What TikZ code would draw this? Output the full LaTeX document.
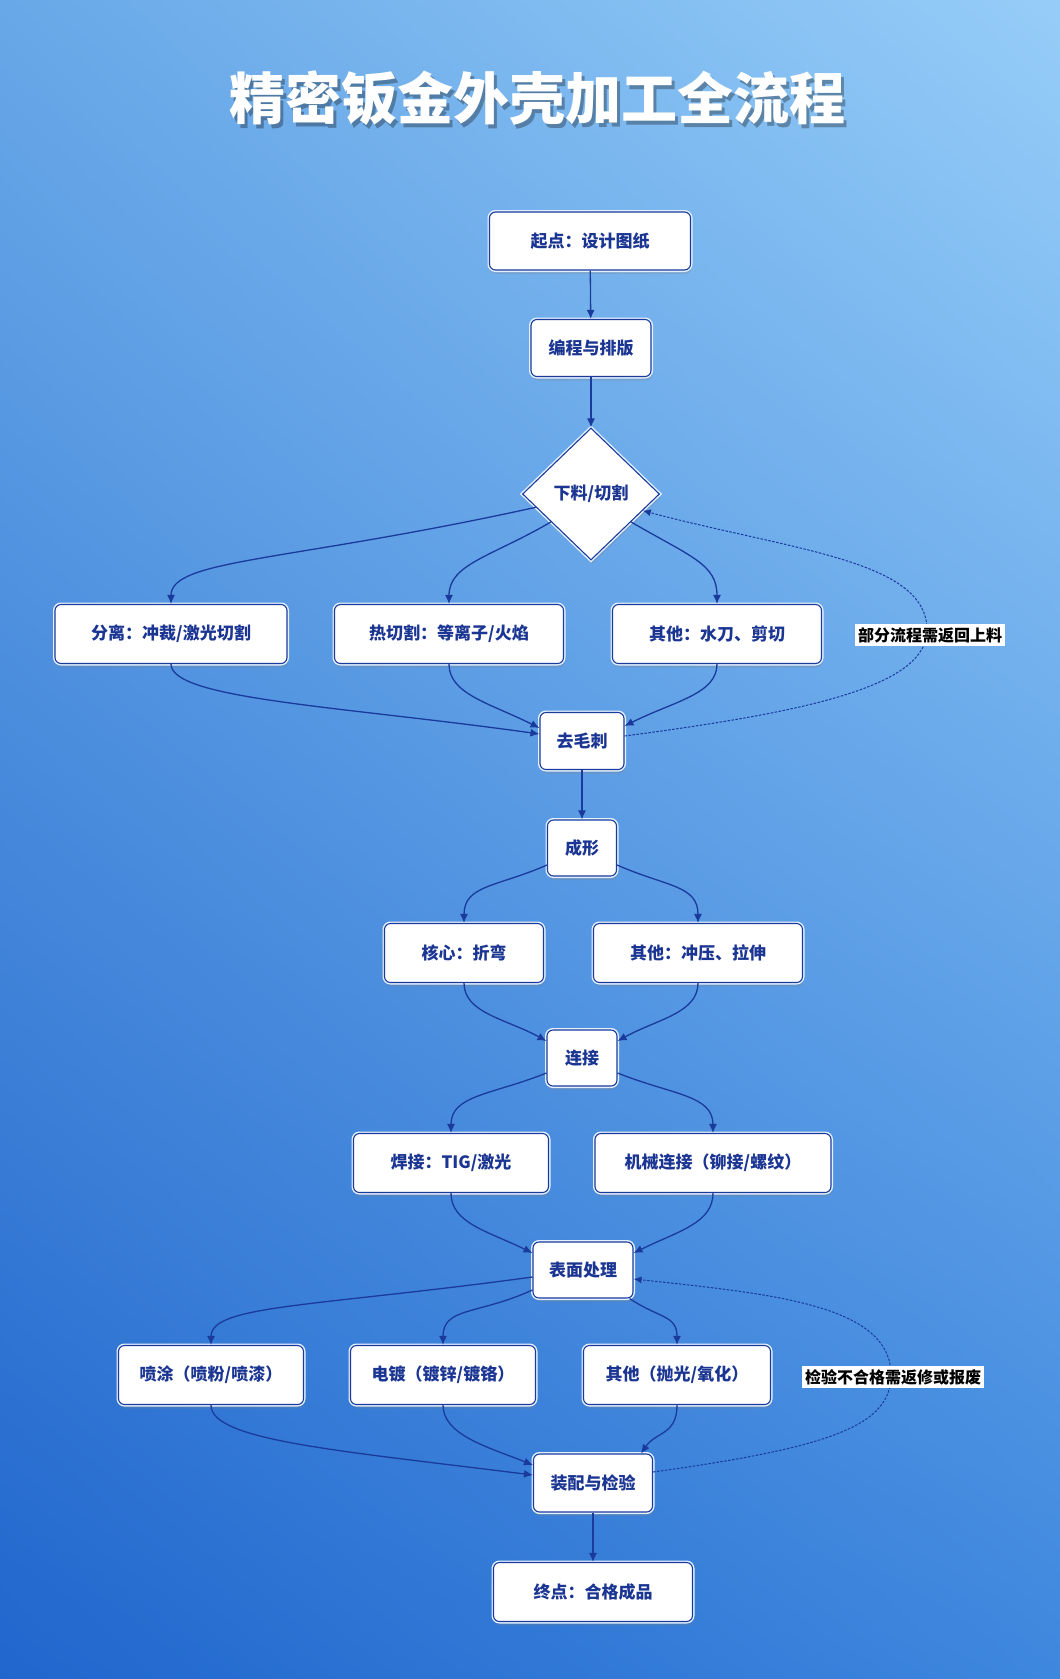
\documentclass[tikz,border=0pt]{standalone}
\usepackage{fontspec}
\setmainfont{Noto Sans CJK SC}
\usetikzlibrary{shapes.geometric,arrows.meta,shadows,calc,shadings}
\definecolor{ink}{HTML}{1B3592}
\definecolor{edgec}{HTML}{1A3A9C}
\definecolor{halo}{HTML}{E4F0FC}
\definecolor{bgtl}{RGB}{104,168,232}
\definecolor{bgtr}{RGB}{150,205,248}
\definecolor{bgbl}{RGB}{32,102,205}
\definecolor{bgbr}{RGB}{62,135,222}
\tikzset{
  pbox/.style={rectangle, rounded corners=6pt, fill=white, draw=edgec, line width=1.1pt,
    minimum height=58pt, inner sep=2pt, text=ink,
    font=\bfseries\fontsize{17}{20}\selectfont,
    drop shadow={opacity=0.25, shadow xshift=1pt, shadow yshift=-4pt},
    preaction={draw=halo, line width=4pt}},
  pdiam/.style={diamond, fill=white, draw=edgec, line width=1.1pt, inner sep=0pt,
    minimum width=137pt, minimum height=132pt, text=ink,
    font=\bfseries\fontsize{17}{20}\selectfont,
    drop shadow={opacity=0.25, shadow xshift=1pt, shadow yshift=-4pt},
    preaction={draw=halo, line width=4pt}},
  conn/.style={draw=edgec, line width=1.3pt, -{Latex[length=9pt,width=8pt]}},
  fb/.style={draw=edgec, line width=1pt, dash pattern=on 2.5pt off 1.5pt, -{Latex[length=8pt,width=7pt]}},
  note/.style={fill=white, text=black, inner sep=3pt, font=\bfseries\fontsize{16}{19}\selectfont}
}
\begin{document}
\begin{tikzpicture}[x=1pt,y=-1pt]
\useasboundingbox (0,0) rectangle (1060,1679);
\shade[upper left=bgtl, upper right=bgtr, lower left=bgbl, lower right=bgbr] (0,0) rectangle (1060,1679);

% title
\node[text=black, opacity=0.3, font=\bfseries\fontsize{56}{62}\selectfont] (titleshadow) at (540,102) {精密钣金外壳加工全流程};
\node[text=white, font=\bfseries\fontsize{56}{62}\selectfont] (title) at (537,98) {精密钣金外壳加工全流程};

% nodes
\node[pbox, minimum width=201pt] (s) at (590,241) {起点：设计图纸};
\node[pbox, minimum width=120pt, minimum height=57pt] (p) at (591,348) {编程与排版};
\node[pdiam] (d) at (591,494) {下料/切割};
\node[pbox, minimum width=232pt, minimum height=59pt] (c1) at (171,634) {分离：冲裁/激光切割};
\node[pbox, minimum width=229pt, minimum height=59pt] (c2) at (449,634) {热切割：等离子/火焰};
\node[pbox, minimum width=209pt, minimum height=59pt] (c3) at (717,634) {其他：水刀、剪切};
\node[pbox, minimum width=84pt, minimum height=57pt] (q) at (582,741) {去毛刺};
\node[pbox, minimum width=69pt, minimum height=56pt] (f) at (582,848) {成形};
\node[pbox, minimum width=159pt, minimum height=59pt] (f1) at (464,953) {核心：折弯};
\node[pbox, minimum width=209pt, minimum height=59pt] (f2) at (698,953) {其他：冲压、拉伸};
\node[pbox, minimum width=70pt, minimum height=56pt] (j) at (582,1058) {连接};
\node[pbox, minimum width=195pt, minimum height=59pt] (j1) at (451,1163) {焊接：TIG/激光};
\node[pbox, minimum width=236pt, minimum height=59pt] (j2) at (713,1163) {机械连接（铆接/螺纹）};
\node[pbox, minimum width=100pt, minimum height=56pt] (t) at (583,1270) {表面处理};
\node[pbox, minimum width=185pt, minimum height=59pt] (t1) at (211,1375) {喷涂（喷粉/喷漆）};
\node[pbox, minimum width=185pt, minimum height=59pt] (t2) at (443,1375) {电镀（镀锌/镀铬）};
\node[pbox, minimum width=187pt, minimum height=59pt] (t3) at (677,1375) {其他（抛光/氧化）};
\node[pbox, minimum width=119pt, minimum height=58pt] (a) at (593,1483) {装配与检验};
\node[pbox, minimum width=199pt, minimum height=59pt] (e) at (593,1592) {终点：合格成品};

\coordinate (r1) at (927,630);
\coordinate (r2) at (891,1375);

% connectors
\draw[conn] (s) -- (p);
\draw[conn] (p) -- (d);
\draw[conn] ($(d.west)!0.2!(d.south)$) .. controls +(-250,55) and +(0,-45) .. (c1.north);
\draw[conn] ($(d.west)!0.42!(d.south)$) .. controls +(-60,35) and +(0,-40) .. (c2.north);
\draw[conn] ($(d.east)!0.42!(d.south)$) .. controls +(60,35) and +(0,-40) .. (c3.north);
\draw[conn] (c1.south) .. controls +(0,35) and +(-200,-28) .. ([yshift=7pt]q.west);
\draw[conn] (c2.south) .. controls +(0,30) and +(-50,-25) .. ([yshift=13pt]q.west);
\draw[conn] (c3.south) .. controls +(0,30) and +(50,-25) .. ([yshift=15pt]q.east);
\draw[fb] ([yshift=5pt]q.east) .. controls +(190,-25) and +(0,55) .. (r1) .. controls +(0,-70) and +(150,40) .. ($(d.east)!0.25!(d.south)$);
\draw[conn] (q) -- (f);
\draw[conn] ([yshift=-17pt]f.west) .. controls +(-50,22) and +(0,-38) .. (f1.north);
\draw[conn] ([yshift=-17pt]f.east) .. controls +(50,22) and +(0,-38) .. (f2.north);
\draw[conn] (f1.south) .. controls +(0,30) and +(-40,-22) .. ([yshift=17pt]j.west);
\draw[conn] (f2.south) .. controls +(0,30) and +(40,-22) .. ([yshift=17pt]j.east);
\draw[conn] ([yshift=-15pt]j.west) .. controls +(-55,22) and +(0,-38) .. (j1.north);
\draw[conn] ([yshift=-15pt]j.east) .. controls +(55,22) and +(0,-38) .. (j2.north);
\draw[conn] (j1.south) .. controls +(0,30) and +(-45,-22) .. ([yshift=17pt]t.west);
\draw[conn] (j2.south) .. controls +(0,30) and +(45,-22) .. ([yshift=17pt]t.east);
\draw[conn] ([yshift=-7pt]t.west) .. controls +(-220,30) and +(0,-40) .. (t1.north);
\draw[conn] ([yshift=-20pt]t.west) .. controls +(-55,25) and +(0,-38) .. (t2.north);
\draw[conn] ([xshift=-4pt]t.south east) .. controls +(30,20) and +(0,-30) .. (t3.north);
\draw[conn] (t1.south) .. controls +(0,35) and +(-200,-25) .. ([yshift=8pt]a.west);
\draw[conn] (t2.south) .. controls +(0,30) and +(-45,-18) .. ([yshift=18pt]a.west);
\draw[conn] (t3.south) .. controls +(0,30) and +(15,-22) .. ([xshift=-12pt]a.north east);
\draw[fb] ([yshift=11pt]a.east) .. controls +(180,-25) and +(0,50) .. (r2) .. controls +(0,-70) and +(140,15) .. ([yshift=-9pt]t.east);
\draw[conn] (a) -- (e);

% notes (drawn over the dashed lines)
\node[note] (n1) at (930,635) {部分流程需返回上料};
\node[note] (n2) at (893,1377) {检验不合格需返修或报废};
\end{tikzpicture}
\end{document}
